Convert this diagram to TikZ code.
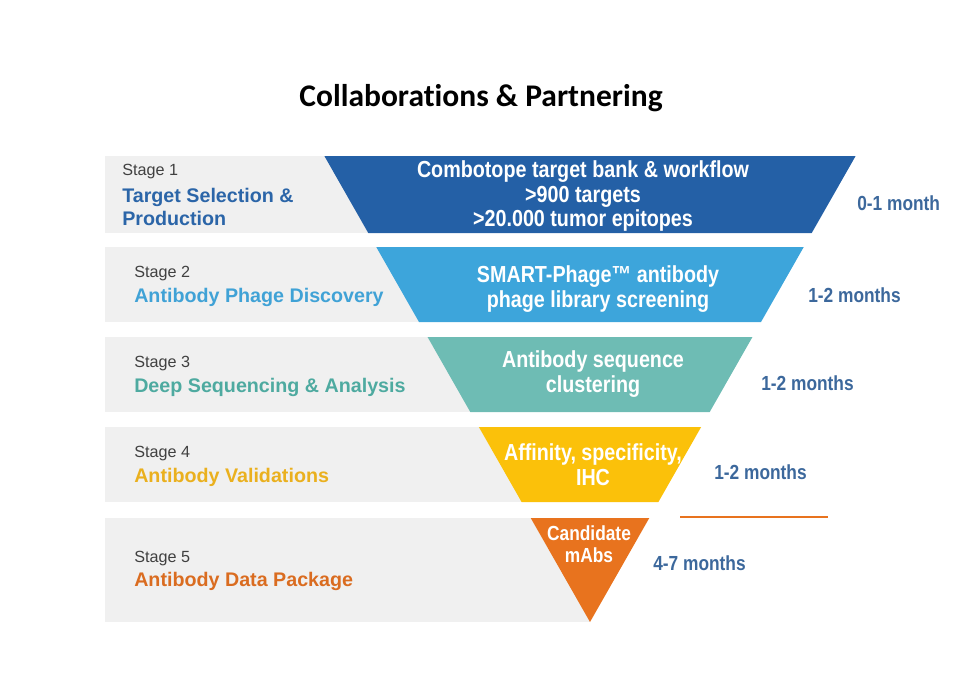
\documentclass[tikz,border=0pt]{standalone}
\usepackage{fontspec}
\setmainfont{Liberation Sans}
\newfontfamily\headfont[Ligatures=NoCommon]{Carlito}
\newfontfamily\narrowfont[FakeStretch=0.85]{Liberation Sans}
\definecolor{bandgray}{RGB}{240,240,240}
\definecolor{stageone}{RGB}{36,96,166}
\definecolor{stagetwo}{RGB}{61,165,219}
\definecolor{stagethree}{RGB}{110,188,180}
\definecolor{stagefour}{RGB}{251,193,10}
\definecolor{stagefive}{RGB}{232,115,30}
\definecolor{onetext}{RGB}{43,101,168}
\definecolor{twotext}{RGB}{64,162,214}
\definecolor{threetext}{RGB}{78,170,160}
\definecolor{fourtext}{RGB}{234,176,30}
\definecolor{fivetext}{RGB}{218,108,32}
\definecolor{timeblue}{RGB}{60,104,156}

\begin{document}
\begin{tikzpicture}[
  x=0.025cm, y=-0.025cm,
  headline/.style={font=\headfont\bfseries\fontsize{22.4}{26}\selectfont, inner sep=0pt},
  stagenum/.style={font=\fontsize{11.5}{13}\selectfont, text=black!75, anchor=west, inner sep=0pt},
  stagename/.style={font=\bfseries\fontsize{14}{17}\selectfont, anchor=west, align=left, inner sep=0pt},
  funneltext/.style={font=\narrowfont\bfseries\fontsize{16.5}{17.5}\selectfont, text=white, align=center, inner sep=0pt},
  timelabel/.style={font=\narrowfont\bfseries\fontsize{14.5}{16}\selectfont, text=timeblue, anchor=west, inner sep=0pt}
]
\useasboundingbox (0,0) rectangle (960,672);

\foreach \ya/\yb/\col in {156/233/stageone, 247/322/stagetwo, 337/412/stagethree, 427/502/stagefour}{
  \fill[bandgray] (105,\ya) rectangle (590,\yb);
  \fill[\col] ({590-0.57*(622-\ya)},\ya) -- ({590+0.57*(622-\ya)},\ya)
    -- ({590+0.57*(622-\yb)},\yb) -- ({590-0.57*(622-\yb)},\yb) -- cycle;
}
\fill[bandgray] (105,518) rectangle (590,622);
\fill[stagefive] ({590-0.57*104},518) -- ({590+0.57*104},518) -- (590,622) -- cycle;
\draw[stagefive, line width=1.4pt] (680,517) -- (828,517);

\node[headline] (title) at (481,98) {Collaborations \& Partnering};

\node[stagenum] (num1) at (122,172) {Stage 1};
\node[stagename, text=onetext] (name1) at (122,207) {Target Selection \&\\Production};
\node[stagenum] (num2) at (134,274) {Stage 2};
\node[stagename, text=twotext] (name2) at (134,297) {Antibody Phage Discovery};
\node[stagenum] (num3) at (134,364) {Stage 3};
\node[stagename, text=threetext] (name3) at (134,387) {Deep Sequencing \& Analysis};
\node[stagenum] (num4) at (134,454) {Stage 4};
\node[stagename, text=fourtext] (name4) at (134,477) {Antibody Validations};
\node[stagenum] (num5) at (134,559) {Stage 5};
\node[stagename, text=fivetext] (name5) at (134,581) {Antibody Data Package};

\node[funneltext] (bank) at (583,196) {Combotope target bank \& workflow\\>900 targets\\>20.000 tumor epitopes};
\node[funneltext] (phage) at (598,289) {SMART-Phage™ antibody\\phage library screening};
\node[funneltext] (cluster) at (593,374) {Antibody sequence\\clustering};
\node[funneltext] (affinity) at (593,465) {Affinity, specificity,\\IHC};
\node[funneltext, font=\narrowfont\bfseries\fontsize{14.5}{15.5}\selectfont] (mabs) at (589,544) {Candidate\\mAbs};

\node[timelabel] (time1) at (857,203) {0-1 month};
\node[timelabel] (time2) at (808,295) {1-2 months};
\node[timelabel] (time3) at (761,383) {1-2 months};
\node[timelabel] (time4) at (714,472) {1-2 months};
\node[timelabel] (time5) at (653,563) {4-7 months};
\end{tikzpicture}
\end{document}
